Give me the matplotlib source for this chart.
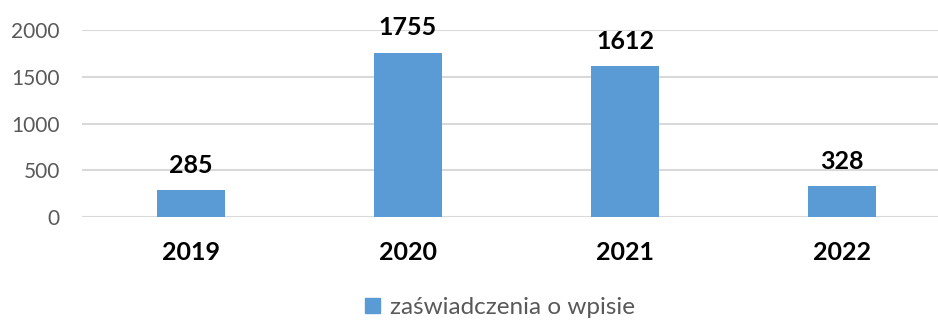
import matplotlib
matplotlib.use("Agg")
import matplotlib.pyplot as plt
from matplotlib.patches import Patch

years = ["2019", "2020", "2021", "2022"]
counts = [285, 1755, 1612, 328]
series_name = "zaświadczenia o wpisie"

BAR = "#5B9BD5"
GRID = "#D9D9D9"
GRAY = "#595959"

plt.rcParams["font.family"] = ["Lato", "DejaVu Sans"]

fig = plt.figure(figsize=(9.38, 3.24), dpi=100)
ax = fig.add_axes([0.0874, 0.330, 0.9264, 0.577])

x = range(len(years))
ax.bar(x, counts, width=0.313, color=BAR, zorder=3)
for xi, v in zip(x, counts):
    ax.annotate(str(v), (xi, v), xytext=(0, 10), textcoords="offset points",
                ha="center", va="bottom", fontsize=18, fontweight="bold", color="black")

ax.set_xlim(-0.5, len(years) - 0.5)
ax.set_ylim(0, 2000)
ax.set_yticks([0, 500, 1000, 1500, 2000])
ax.set_xticks(list(x))
ax.set_xticklabels(years, fontsize=18, fontweight="bold", color="black")
ax.tick_params(axis="y", labelsize=15, labelcolor=GRAY, length=0, pad=16)
ax.tick_params(axis="x", length=0, pad=17)
ax.grid(axis="y", color=GRID, linewidth=1.5, zorder=0)
for s in ax.spines.values():
    s.set_visible(False)

fig.legend(handles=[Patch(color=BAR, label=series_name)], loc="lower center",
           bbox_to_anchor=(0.533, -0.035), frameon=False, fontsize=17.5,
           labelcolor=GRAY, handlelength=0.6, handleheight=0.6, handletextpad=0.4,
           borderpad=0.2)

fig.savefig("out.png", dpi=100)
